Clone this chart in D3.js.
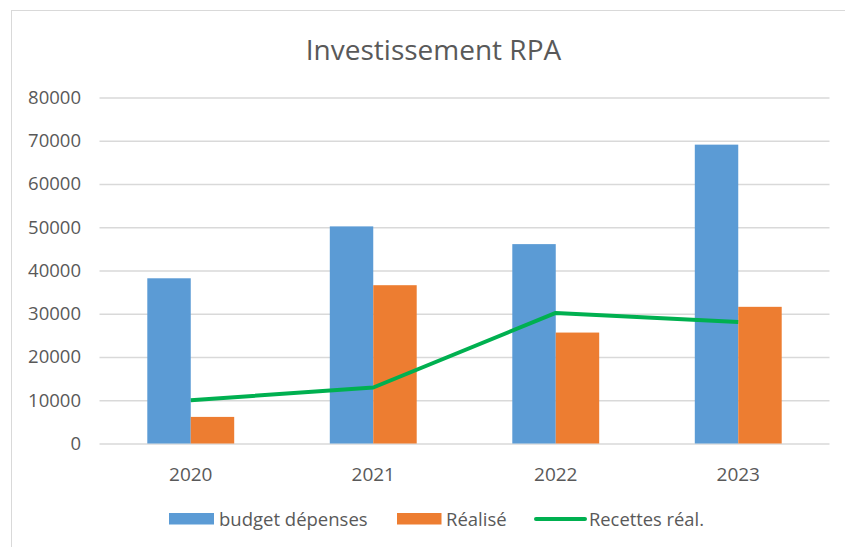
<!DOCTYPE html>
<html>
<head>
<meta charset="utf-8">
<script src="https://cdn.jsdelivr.net/npm/d3@7"></script>
<style>
  body { margin: 0; background: #fff; }
  text { font-family: "Open Sans", sans-serif; fill: #595959; }
</style>
</head>
<body>
<svg id="viz"></svg>
<script>
const svg = d3.select("#viz");

const width = 845;
const height = 547;

// data
const years = ["2020", "2021", "2022", "2023"];
const budget = [38200, 50200, 46100, 69100];
const realise = [6150, 36600, 25650, 31600];
const recettes = [10000, 12950, 30200, 28100];
const yTicks = [0, 10000, 20000, 30000, 40000, 50000, 60000, 70000, 80000];

const barSeries = ["budget dépenses", "Réalisé"];
const lineSeries = "Recettes réal.";
const colors = ["#5b9bd5", "#ed7d31"];
const lineColor = "#00b050";

svg.attr("width", width).attr("height", height);

// chart frame
svg.append("rect")
  .attr("x", 11.5)
  .attr("y", 10.5)
  .attr("width", 900)
  .attr("height", 600)
  .attr("fill", "#fff")
  .attr("stroke", "#d9d9d9");

const plotL = 99.5, plotR = 829.5, plotT = 97.5, plotB = 443.5;

const x0 = d3.scaleBand()
  .domain(years)
  .range([plotL, plotR])
  .padding(0);

const x1 = d3.scaleBand()
  .domain(barSeries)
  .range([0, x0.bandwidth()])
  .paddingInner(0)
  .paddingOuter(1.1);

const y = d3.scaleLinear()
  .domain([0, 80000])
  .range([plotB, plotT]);

// title
svg.append("text")
  .attr("x", 433.5)
  .attr("y", 60)
  .attr("text-anchor", "middle")
  .style("font-size", "28px")
  .text("Investissement RPA");

// y axis + gridlines
const yAxis = svg.append("g")
  .attr("transform", `translate(${plotL},0)`)
  .call(d3.axisLeft(y).tickValues(yTicks).tickSize(-(plotR - plotL)).tickPadding(18.5).tickFormat(d3.format("d")));
yAxis.select(".domain").remove();
yAxis.selectAll("line").attr("stroke", "#d9d9d9").attr("stroke-width", 1.3);
yAxis.selectAll("text")
  .style("font-size", "18.5px")
  .attr("fill", "#595959");

// x axis labels
const xAxis = svg.append("g")
  .attr("transform", `translate(0,${plotB})`)
  .call(d3.axisBottom(x0).tickSize(0).tickPadding(0));
xAxis.select(".domain").remove();
xAxis.selectAll("text")
  .attr("y", 37)
  .attr("dy", 0)
  .style("font-size", "19px")
  .attr("fill", "#595959");

// bars
const rows = years.map((yr, i) => ({ year: yr, values: [budget[i], realise[i]] }));

const groups = svg.selectAll("g.grp")
  .data(rows)
  .enter()
  .append("g")
  .attr("class", "grp")
  .attr("transform", d => `translate(${x0(d.year)},0)`);

groups.selectAll("rect")
  .data(d => d.values.map((v, j) => ({ key: barSeries[j], value: v, j })))
  .enter()
  .append("rect")
  .attr("x", d => x1(d.key))
  .attr("y", d => y(d.value))
  .attr("width", x1.bandwidth())
  .attr("height", d => plotB - y(d.value))
  .attr("fill", d => colors[d.j]);

// line
const line = d3.line()
  .x((d, i) => x0(years[i]) + x0.bandwidth() / 2)
  .y(d => y(d));

svg.append("path")
  .datum(recettes)
  .attr("d", line)
  .attr("fill", "none")
  .attr("stroke", lineColor)
  .attr("stroke-width", 4)
  .attr("stroke-linejoin", "round");

// legend
const legendY = 519;
const lg = svg.append("g");

lg.append("rect").attr("x", 169).attr("y", legendY - 6).attr("width", 45).attr("height", 11.5).attr("fill", colors[0]);
lg.append("text").attr("x", 219).attr("y", legendY + 6.5).style("font-size", "18.5px").text(barSeries[0]);

lg.append("rect").attr("x", 397).attr("y", legendY - 6).attr("width", 44.5).attr("height", 11.5).attr("fill", colors[1]);
lg.append("text").attr("x", 446).attr("y", legendY + 6.5).style("font-size", "18.5px").text(barSeries[1]);

lg.append("line").attr("x1", 536).attr("x2", 585).attr("y1", legendY).attr("y2", legendY)
  .attr("stroke", lineColor).attr("stroke-width", 4).attr("stroke-linecap", "round");
lg.append("text").attr("x", 589).attr("y", legendY + 6.5).style("font-size", "18.5px")
  .attr("textLength", 115).attr("lengthAdjust", "spacingAndGlyphs").text(lineSeries);
</script>
</body>
</html>
